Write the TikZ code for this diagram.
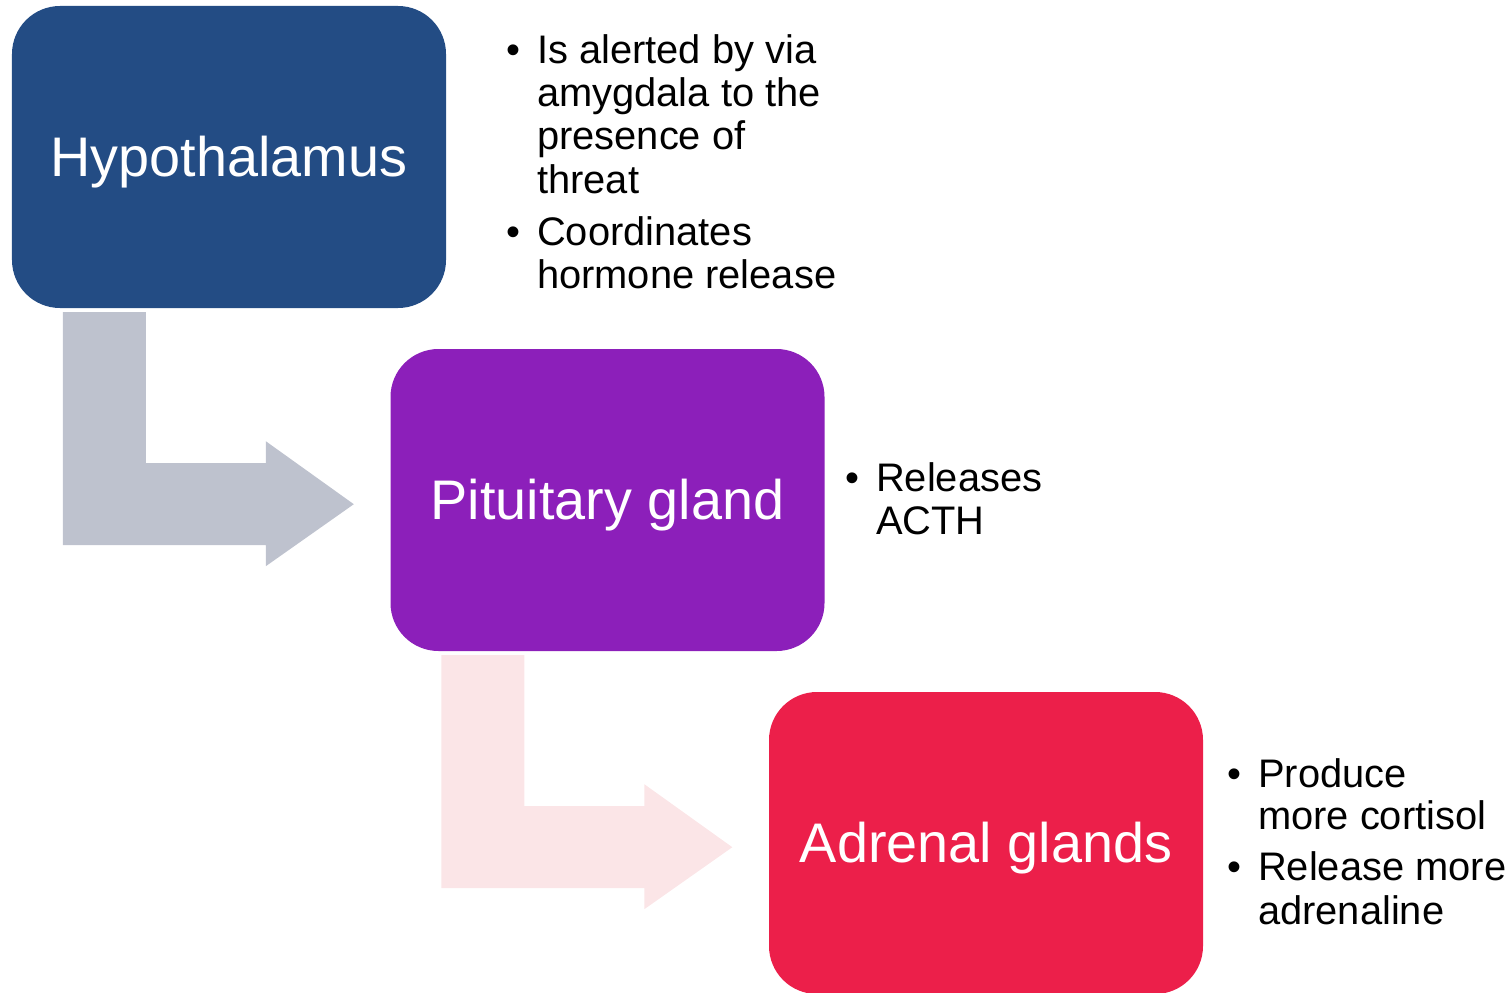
\documentclass[tikz,border=0pt]{standalone}
\usepackage{fontspec}
\setmainfont{Liberation Sans}
\definecolor{hypoblue}{HTML}{234C84}
\definecolor{pitpurple}{HTML}{8C1FBA}
\definecolor{adrred}{HTML}{EC1F4A}
\definecolor{arrowgray}{HTML}{BEC2CE}
\definecolor{arrowpink}{HTML}{FBE5E7}
% bent arrow from the lower left of a box to the right
\newcommand\bentarrow[2]{%
  \begin{scope}[shift={(#1.south west)}]
    \fill[#2] (51,4) -- (134,4) -- (134,155) -- (254,155) -- (254,133)
      -- (342,196) -- (254,258) -- (254,237) -- (51,237) -- cycle;
  \end{scope}}
\begin{document}
\begin{tikzpicture}[x=1bp,y=-1bp,
  stage/.style={rounded corners=48bp, minimum width=434bp, minimum height=302bp,
    inner sep=0pt, text=white, font=\fontsize{56}{60}\selectfont,
    text height=58bp, text depth=20bp},
  note/.style={anchor=base west, inner sep=0pt, font=\fontsize{40}{44}\selectfont},
  dot/.style={anchor=base, inner sep=0pt, font=\fontsize{40}{44}\selectfont}]
\useasboundingbox (0,0) rectangle (1512,992);

% the three stages
\node[stage, fill=hypoblue]  (hypo) at (229,157) {Hypothalamus};
\node[stage, fill=pitpurple] (pit)  at (607.5,500) {Pituitary gland};
\node[stage, fill=adrred]    (adr)  at (986,843) {Adrenal glands};

% connectors between stages
\bentarrow{hypo}{arrowgray}
\bentarrow{pit}{arrowpink}

% notes beside the hypothalamus
\node[dot]  (b1) at (513,63)  {•};
\node[note] (t1a) at (537,63)  {Is alerted by via};
\node[note] (t1b) at (537,106) {amygdala to the};
\node[note] (t1c) at (537,149) {presence of};
\node[note] (t1d) at (537,193) {threat};
\node[dot]  (b2) at (513,245) {•};
\node[note] (t2a) at (537,245) {Coordinates};
\node[note] (t2b) at (537,288) {hormone release};

% notes beside the pituitary gland
\node[dot]  (b3) at (852,491) {•};
\node[note] (t3a) at (876,491) {Releases};
\node[note] (t3b) at (876,534) {ACTH};

% notes beside the adrenal glands
\node[dot]  (b4) at (1234,787) {•};
\node[note] (t4a) at (1258,787) {Produce};
\node[note] (t4b) at (1258,829) {more cortisol};
\node[dot]  (b5) at (1234,880) {•};
\node[note] (t5a) at (1258,880) {Release more};
\node[note] (t5b) at (1258,924) {adrenaline};
\end{tikzpicture}
\end{document}
